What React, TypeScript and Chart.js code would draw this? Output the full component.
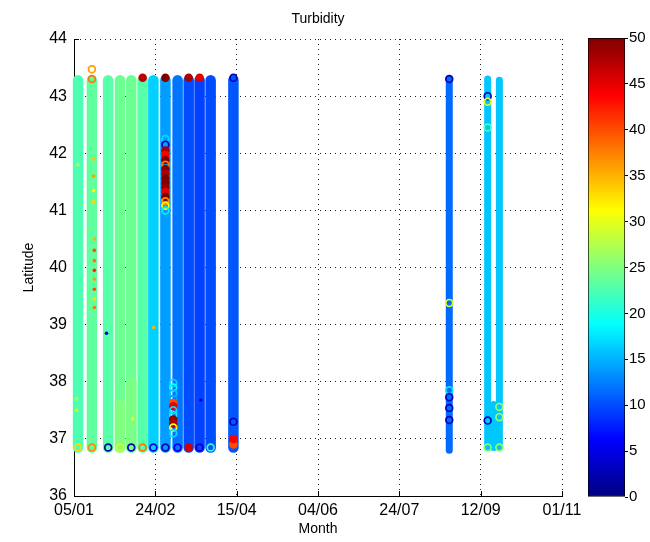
import React, { useEffect, useRef } from 'react';
import { Chart, registerables } from 'chart.js';

Chart.register(...registerables);
Chart.defaults.font.family = "'Liberation Sans', Arial, Helvetica, sans-serif";
Chart.defaults.color = '#000';

// ---- axis labels ----
const xTickLabels = ['05/01', '24/02', '15/04', '04/06', '24/07', '12/09', '01/11'];
const xTickStepDays = 50;
const latMin = 36;
const latMax = 44;
const turbMin = 0;
const turbMax = 50;

// ---- transect segments (day since 05/01, latitude range, turbidity) ----
const segDay = [2.5, 11, 21, 28.3, 35.2, 42.2, 48.8, 56.2, 63.7, 70.5, 77.2, 84, 98, 230.7, 254.3, 261.5, 258, 35.2, 28.3];
const segLatStart = [36.85, 36.85, 36.85, 36.85, 36.85, 36.85, 36.85, 36.85, 36.85, 36.85, 36.85, 36.85, 36.85, 36.8, 36.85, 36.85, 36.85, 36.85, 36.85];
const segLatEnd = [43.28, 43.28, 43.28, 43.28, 43.28, 43.28, 43.28, 43.28, 43.28, 43.28, 43.28, 43.28, 43.28, 43.3, 43.3, 43.28, 37.6, 38.0, 37.6];
const segTurb = [22.5, 23.5, 23, 24, 24, 23, 16.5, 14, 12, 10, 9.5, 10, 10.5, 11.5, 16, 16, 16, 24.8, 25];

// ---- individual ring markers ----
const ringDay = [
  2.5, 11, 21, 28.3, 35.2, 42.2, 48.8, 56.2, 63.7, 70.5, 77.2, 84, 98, 98, 98,
  11, 11, 42.2, 56.2, 70.5, 77.2, 98,
  56.2, 56.2, 56.2, 56.2, 56.2, 56.2, 56.2, 56.2, 56.2, 56.2, 56.2, 56.2, 56.2, 56.2, 56.2, 56.2,
  61, 61, 61, 61, 61, 61, 61, 61, 61, 61, 61, 61,
  230.7, 230.7, 230.7, 230.7, 230.7, 230.7,
  254.3, 254.3, 254.3, 254.3, 254.3,
  261.5, 261.5, 261.5,
];
const ringLat = [
  36.85, 36.85, 36.85, 36.85, 36.85, 36.85, 36.85, 36.85, 36.85, 36.85, 36.85, 36.85, 36.9, 37.0, 37.3,
  43.47, 43.3, 43.32, 43.32, 43.32, 43.32, 43.32,
  42.25, 42.15, 42.05, 41.97, 41.88, 41.8, 41.72, 41.64, 41.56, 41.48, 41.4, 41.32, 41.24, 41.16, 41.08, 41.0,
  37.98, 37.9, 37.8, 37.7, 37.63, 37.57, 37.5, 37.42, 37.34, 37.27, 37.2, 37.1,
  43.3, 39.38, 37.85, 37.73, 37.54, 37.33,
  43.0, 42.9, 42.45, 37.32, 36.85,
  37.56, 37.38, 36.85,
];
const ringTurb = [
  33, 37, 2, 29, 3, 38, 5, 3, 6, 46, 4, 21, 40, 44, 3,
  36, 38, 47, 50, 48, 45, 3,
  17, 3, 48, 44, 50, 38, 50, 48, 50, 50, 49, 45, 50, 37, 31, 18,
  17, 19, 16, 14, 40, 45, 17, 18, 49, 48, 31, 17,
  3, 30, 18, 3, 3, 3,
  3, 30, 22, 3, 25,
  26, 26, 26,
];

// ---- small specks inside the tracks ----
const speckDay = [12.5, 12.5, 12.5, 12.5, 12.5, 12.5, 12.5, 12.5, 12, 12, 12, 12, 2.5, 1.5, 1.5, 36, 49, 20, 78];
const speckLat = [40.5, 40.3, 40.12, 39.95, 39.8, 39.62, 39.45, 39.3, 41.9, 41.6, 41.35, 41.15, 41.8, 37.7, 37.5, 37.35, 38.95, 38.85, 37.68];
const speckTurb = [35, 40, 38, 42, 36, 40, 33, 38, 34, 36, 31, 33, 28, 28, 30, 30, 35, 4, 3];

// ---- jet colormap ----
const jetStops = [0, 0.125, 0.375, 0.625, 0.875, 1];
const jetRGB = [
  [0, 0, 128],
  [0, 0, 255],
  [0, 255, 255],
  [255, 255, 0],
  [255, 0, 0],
  [128, 0, 0],
];

function jet(v: number): string {
  let t = (v - turbMin) / (turbMax - turbMin);
  t = Math.max(0, Math.min(1, t));
  let i = 0;
  while (i < jetStops.length - 2 && t > jetStops[i + 1]) i++;
  const f = (t - jetStops[i]) / (jetStops[i + 1] - jetStops[i]);
  const a = jetRGB[i];
  const b = jetRGB[i + 1];
  const c = a.map((x, k) => Math.round(x + (b[k] - x) * f));
  return `rgb(${c[0]},${c[1]},${c[2]})`;
}

const LEFT_TRACK_WIDTH = 10.5;
const RIGHT_TRACK_WIDTH = 7;

const inwardTicks = {
  id: 'inwardTicks',
  beforeDatasetsDraw(chart: any) {
    const { ctx, scales, chartArea } = chart;
    const x = scales.x;
    const y = scales.y;
    ctx.save();
    ctx.strokeStyle = '#000';
    ctx.lineWidth = 1;
    y.ticks.forEach((t: any) => {
      const py = Math.round(y.getPixelForValue(t.value)) + 0.5;
      ctx.beginPath();
      ctx.moveTo(chartArea.left, py);
      ctx.lineTo(chartArea.left + 5, py);
      ctx.stroke();
    });
    x.ticks.forEach((t: any) => {
      const px = Math.round(x.getPixelForValue(t.value)) + 0.5;
      ctx.beginPath();
      ctx.moveTo(px, chartArea.bottom);
      ctx.lineTo(px, chartArea.bottom - 5);
      ctx.stroke();
    });
    ctx.restore();
  },
};

export default function App() {
  const mainRef = useRef<HTMLCanvasElement>(null);
  const cbRef = useRef<HTMLCanvasElement>(null);

  useEffect(() => {
    const segments = segDay.map((d, i) => ({
      type: 'scatter' as const,
      data: [
        { x: d, y: segLatStart[i] },
        { x: d, y: segLatEnd[i] },
      ],
      showLine: true,
      borderColor: jet(segTurb[i]),
      backgroundColor: jet(segTurb[i]),
      borderWidth: d > 200 ? RIGHT_TRACK_WIDTH : LEFT_TRACK_WIDTH,
      borderCapStyle: 'round' as const,
      pointRadius: 0,
      clip: false as any,
    }));

    const rings = {
      type: 'scatter' as const,
      data: ringDay.map((d, i) => ({ x: d, y: ringLat[i] })),
      pointRadius: 3.4,
      pointBorderWidth: 1.7,
      pointBorderColor: ringTurb.map((v) => jet(v)),
      pointBackgroundColor: ringTurb.map((v) => (v >= 40 ? jet(v) : 'rgba(0,0,0,0)')),
      showLine: false,
      clip: false as any,
    };

    const specks = {
      type: 'scatter' as const,
      data: speckDay.map((d, i) => ({ x: d, y: speckLat[i] })),
      pointRadius: 1.8,
      pointBorderWidth: 0,
      pointBackgroundColor: speckTurb.map((v) => jet(v)),
      showLine: false,
      clip: false as any,
    };

    const datasets: any[] = [rings, specks, ...segments.slice().reverse()];

    const main = new Chart(mainRef.current!, {
      type: 'scatter',
      data: { datasets },
      options: {
        responsive: false,
        animation: false,
        events: [],
        layout: { padding: { left: 0, right: 88, top: 0, bottom: 0 } },
        plugins: {
          legend: { display: false },
          tooltip: { enabled: false },
          title: {
            display: true,
            text: 'Turbidity',
            fullSize: false,
            color: '#000',
            font: { size: 14, weight: 'normal' },
            padding: { top: 11, bottom: 11.2 },
          },
        },
        scales: {
          x: {
            type: 'linear',
            min: 0,
            max: xTickStepDays * (xTickLabels.length - 1),
            position: 'bottom',
            afterFit: (s: any) => {
              s.height = 46;
            },
            ticks: {
              stepSize: xTickStepDays,
              autoSkip: false,
              maxRotation: 0,
              padding: 5,
              color: '#000',
              font: { size: 16 },
              callback: (v: any) => xTickLabels[Math.round(Number(v) / xTickStepDays)] ?? '',
            },
            grid: { color: '#222', lineWidth: 1, drawTicks: false },
            border: { display: true, color: '#000', width: 1, dash: [1, 4] },
            title: {
              display: true,
              text: 'Month',
              color: '#000',
              font: { size: 14 },
              padding: { top: 0, bottom: 4 },
            },
          },
          y: {
            type: 'linear',
            min: latMin,
            max: latMax,
            afterFit: (s: any) => {
              s.width = 74;
            },
            ticks: { stepSize: 1, padding: 7, color: '#000', font: { size: 16 } },
            grid: { color: '#222', lineWidth: 1, drawTicks: false },
            border: { display: true, color: '#000', width: 1, dash: [1, 4] },
            title: {
              display: true,
              text: 'Latitude',
              color: '#000',
              font: { size: 14 },
              padding: { top: 21, bottom: 0 },
            },
          },
        },
      } as any,
      plugins: [inwardTicks],
    });

    const cb = new Chart(cbRef.current!, {
      type: 'bar',
      data: {
        labels: [''],
        datasets: [
          {
            data: [turbMax],
            backgroundColor: (c: any) => {
              const chart = c.chart;
              const area = chart.chartArea;
              if (!area || !isFinite(area.top) || !isFinite(area.bottom) || area.bottom <= area.top) {
                return '#000080';
              }
              const g = chart.ctx.createLinearGradient(0, area.bottom, 0, area.top);
              jetStops.forEach((s, i) => {
                const [r, gg, b] = jetRGB[i];
                g.addColorStop(s, `rgb(${r},${gg},${b})`);
              });
              return g;
            },
            borderColor: '#000',
            borderWidth: 1,
            borderSkipped: false,
            barPercentage: 1,
            categoryPercentage: 1,
          },
        ],
      },
      options: {
        responsive: false,
        animation: false,
        events: [],
        layout: { padding: { left: 28, top: 38, bottom: 45, right: 0 } },
        plugins: { legend: { display: false }, tooltip: { enabled: false } },
        scales: {
          x: { display: false },
          y: {
            position: 'right',
            min: turbMin,
            max: turbMax,
            afterFit: (s: any) => {
              s.width = 25;
            },
            ticks: { stepSize: 5, padding: 1, color: '#000', font: { size: 15 } },
            grid: { drawOnChartArea: false, drawTicks: true, tickLength: 3, color: '#000' },
            border: { display: false },
          },
        },
      } as any,
    });

    return () => {
      main.destroy();
      cb.destroy();
    };
  }, []);

  return (
    <div style={{ position: 'fixed', left: 0, top: 0, width: 650, height: 542, background: '#fff' }}>
      <canvas ref={mainRef} width={650} height={542} style={{ position: 'absolute', left: 0, top: 0 }} />
      <canvas ref={cbRef} width={90} height={542} style={{ position: 'absolute', left: 560, top: 0 }} />
    </div>
  );
}
